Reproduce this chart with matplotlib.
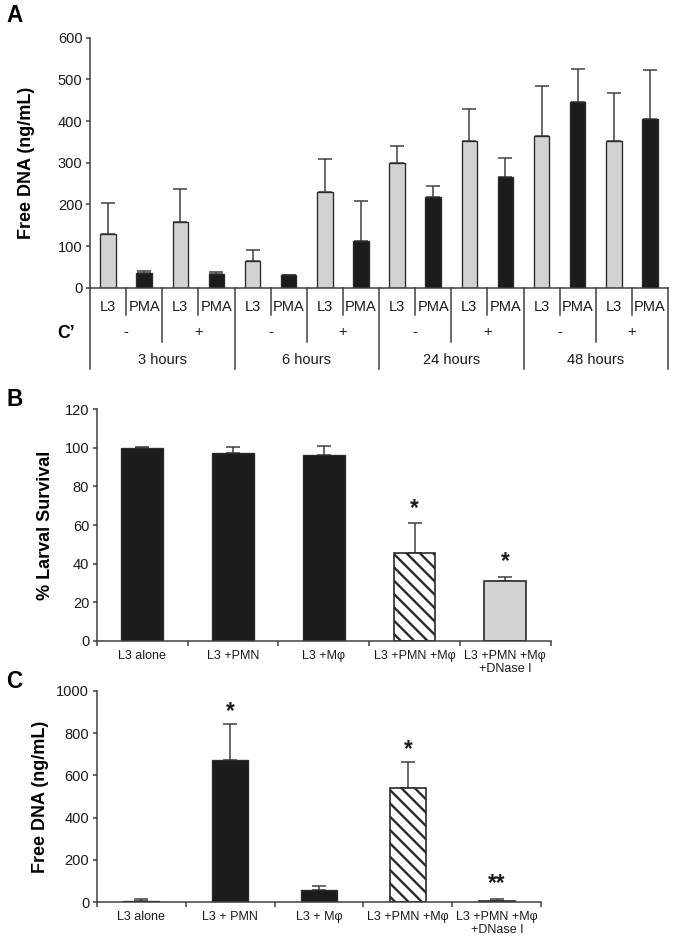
import matplotlib
matplotlib.use("Agg")
import matplotlib.pyplot as plt
import numpy as np

plt.rcParams['font.family'] = ['Liberation Sans', 'DejaVu Sans']
plt.rcParams['hatch.linewidth'] = 1.4
plt.rcParams['hatch.color'] = '#111111'

# ---------------- data ----------------
# Panel A
hours = ["3 hours", "6 hours", "24 hours", "48 hours"]
complement = ["-", "+"]
cells = ["L3", "PMA"]
a_l3 = [130, 157, 65, 229, 300, 352, 365, 352]
a_l3_err = [73, 80, 26, 80, 40, 78, 120, 115]
a_pma = [35, 34, 31, 112, 218, 265, 445, 404]
a_pma_err = [6, 3, 0, 97, 25, 47, 81, 119]
a_yticks = [0, 100, 200, 300, 400, 500, 600]

# Panel B
b_labels = ["L3 alone", "L3 +PMN", "L3 +M\u03c6", "L3 +PMN +M\u03c6", "L3 +PMN +M\u03c6\n+DNase I"]
b_vals = [100, 97.5, 96.3, 45.3, 31.1]
b_err = [0.4, 2.8, 4.5, 15.8, 1.8]
b_star_text = ["", "", "", "*", "*"]
b_star_y = [0, 0, 0, 72, 44.4]
b_yticks = [0, 20, 40, 60, 80, 100, 120]

# Panel C
c_labels = ["L3 alone", "L3 + PMN", "L3 + M\u03c6", "L3 +PMN +M\u03c6", "L3 +PMN +M\u03c6\n+DNase I"]
c_vals = [7, 671, 56, 540, 7]
c_err = [9, 172, 23, 125, 9]
c_star_text = ["", "*", "", "*", "**"]
c_star_y = [0, 932, 0, 754, 121]
c_yticks = [0, 200, 400, 600, 800, 1000]

# styles
fill_styles = ["black", "black", "black", "hatch", "gray"]
GRAY = "#d2d2d2"
BLACK = "#1c1c1c"
EDGE = "#2a2a2a"
LINE = "#3c3c3c"
TICKFS = 8.8

W, H = 675, 943
DPI = 120
fig = plt.figure(figsize=(W / DPI, H / DPI), dpi=DPI)

def rect(l, t, r, b):
    return [l / W, 1 - b / H, (r - l) / W, (b - t) / H]

def style_axes(ax):
    for s in ["top", "right"]:
        ax.spines[s].set_visible(False)
    for s in ["left", "bottom"]:
        ax.spines[s].set_color(LINE)
        ax.spines[s].set_linewidth(0.9)
    ax.tick_params(axis='y', direction='out', length=2.5, width=0.9, color=LINE,
                   labelsize=TICKFS, pad=2, labelcolor='#1a1a1a')

# ---------------- Panel A ----------------
axA = fig.add_axes(rect(90, 37.7, 668, 287.7))
style_axes(axA)
n = len(a_l3)
x_l3 = np.arange(n) * 2
x_pma = x_l3 + 1
bw = 0.43
axA.bar(x_l3, a_l3, width=bw, color=GRAY, edgecolor=EDGE, linewidth=0.8, zorder=2)
axA.bar(x_pma, a_pma, width=bw, color=BLACK, edgecolor=EDGE, linewidth=0.8, zorder=2)
axA.errorbar(x_l3, a_l3, yerr=[np.zeros(n), a_l3_err], fmt='none', ecolor=LINE,
             elinewidth=0.9, capsize=4.2, capthick=0.9, zorder=1)
axA.errorbar(x_pma, a_pma, yerr=[np.zeros(n), a_pma_err], fmt='none', ecolor=LINE,
             elinewidth=0.9, capsize=4.2, capthick=0.9, zorder=1)
axA.set_xlim(-0.5, 2 * n - 0.5)
axA.set_ylim(0, 600)
axA.set_yticks(a_yticks)
axA.set_xticks([])
axA.set_ylabel("Free DNA (ng/mL)", fontsize=10.8, fontweight='bold')
axA.yaxis.set_label_coords(-0.095, 0.5)

tr = axA.get_xaxis_transform()
row1, row2, row3 = -0.109, -0.216, -0.325
ty1, ty2, ty3 = -0.076, -0.176, -0.290
lk = dict(color=LINE, lw=0.9, clip_on=False, transform=tr)
for i in range(2 * n + 1):
    xb = i - 0.5
    if i % 4 == 0:
        yb = row3
    elif i % 2 == 0:
        yb = row2
    else:
        yb = row1
    axA.plot([xb, xb], [0, yb], **lk)
txt_kw = dict(transform=tr, ha='center', va='center', fontsize=8.8, color='#1a1a1a', clip_on=False)
for i in range(2 * n):
    axA.text(i, ty1, cells[i % 2], **txt_kw)
for j in range(n):
    axA.text(2 * j + 0.5, ty2, complement[j % 2], **txt_kw)
for k, h in enumerate(hours):
    axA.text(4 * k + 1.5, ty3, h, **txt_kw)
axA.text(-0.042, -0.182, "C\u2019", transform=axA.transAxes, ha='center', va='center',
         fontsize=10.5, fontweight='bold')

# ---------------- helper for B and C ----------------
def bar_panel(ax, vals, errs, labels, bw):
    m = len(vals)
    xs = np.arange(m)
    for xi, v, st in zip(xs, vals, fill_styles):
        if st == "black":
            ax.bar(xi, v, width=bw, color=BLACK, edgecolor=EDGE, linewidth=0.8, zorder=2)
        elif st == "gray":
            ax.bar(xi, v, width=bw, color=GRAY, edgecolor=EDGE, linewidth=1.0, zorder=2)
        else:
            ax.bar(xi, v, width=bw, color='white', edgecolor=EDGE, linewidth=1.0,
                   hatch='\\\\\\', zorder=2)
    ax.errorbar(xs, vals, yerr=[np.zeros(m), errs], fmt='none', ecolor=LINE,
                elinewidth=0.9, capsize=4.2, capthick=0.9, zorder=1)
    ax.set_xlim(-0.5, m - 0.5)
    ax.set_xticks(xs)
    ax.set_xticklabels(labels, fontsize=7.5, color='#1a1a1a', linespacing=1.1)
    ax.tick_params(axis='x', which='major', length=0, pad=5.5)
    ax.set_xticks(np.arange(m + 1) - 0.5, minor=True)
    ax.tick_params(axis='x', which='minor', length=3, width=0.9, color=LINE, direction='out')

def stars(ax, texts, ys):
    for i, (t, y) in enumerate(zip(texts, ys)):
        if t:
            ax.annotate(t, (i, y), xytext=(0, -7.8), textcoords='offset points',
                        ha='center', va='baseline', fontsize=13.5, fontweight='bold',
                        color='#1a1a1a', annotation_clip=False)

# ---------------- Panel B ----------------
axB = fig.add_axes(rect(96.7, 409.3, 550.7, 640.7))
style_axes(axB)
bar_panel(axB, b_vals, b_err, b_labels, 0.46)
axB.set_ylim(0, 120)
axB.set_yticks(b_yticks)
axB.set_ylabel("% Larval Survival", fontsize=10.8, fontweight='bold')
axB.yaxis.set_label_coords(-0.094, 0.5)
stars(axB, b_star_text, b_star_y)

# ---------------- Panel C ----------------
axC = fig.add_axes(rect(96.7, 690.7, 541.2, 902.3))
style_axes(axC)
bar_panel(axC, c_vals, c_err, c_labels, 0.41)
axC.set_ylim(0, 1000)
axC.set_yticks(c_yticks)
axC.set_ylabel("Free DNA (ng/mL)", fontsize=10.8, fontweight='bold')
axC.yaxis.set_label_coords(-0.107, 0.5)
stars(axC, c_star_text, c_star_y)

# panel letters
for letter, yc in [("A", 15.5), ("B", 399), ("C", 681)]:
    fig.text(6 / W, 1 - yc / H, letter, fontsize=13.5, fontweight='bold', ha='left', va='center')

fig.savefig("out.png", dpi=DPI)
